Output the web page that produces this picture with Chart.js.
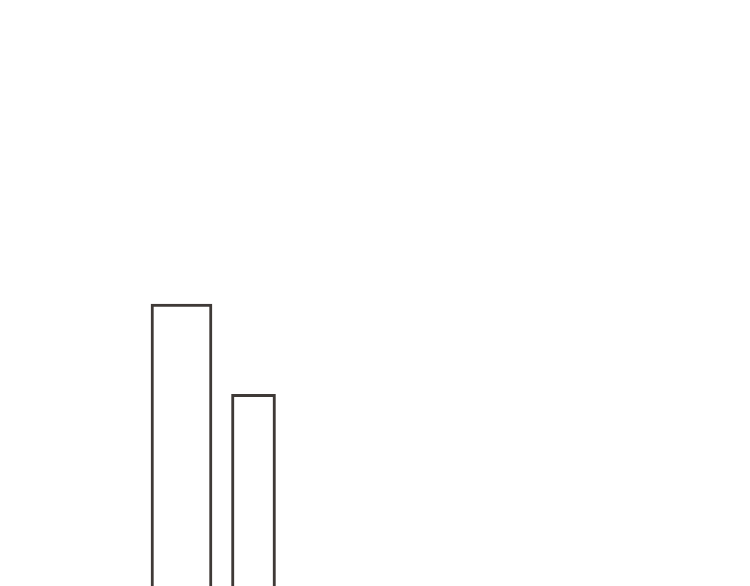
<!DOCTYPE html>
<html>
<head>
<meta charset="utf-8">
<script src="https://cdn.jsdelivr.net/npm/chart.js@4/dist/chart.umd.min.js"></script>
<style>
  html, body { margin: 0; padding: 0; background: #fff; overflow: hidden; }
  .wrap { position: relative; width: 750px; height: 586px; }
</style>
</head>
<body>
<div class="wrap"><canvas id="chart"></canvas></div>
<script>
  // categories along x, only the first two carry a bar
  const categories = ['1', '2', '3', '4', '5', '6', '7', '8'];
  const wideBar = [{ x: '1', y: 100 }];
  const narrowBar = [{ x: '2', y: 68 }];

  const LINE = '#3f3a37';

  new Chart(document.getElementById('chart'), {
    type: 'bar',
    data: {
      labels: categories,
      datasets: [
        {
          data: wideBar,
          barThickness: 61,
          grouped: false,
          backgroundColor: '#fff',
          borderColor: LINE,
          borderWidth: 3,
        },
        {
          data: narrowBar,
          barThickness: 44,
          grouped: false,
          backgroundColor: '#fff',
          borderColor: LINE,
          borderWidth: 3,
        },
      ],
    },
    options: {
      responsive: true,
      maintainAspectRatio: false,
      animation: false,
      layout: { padding: { left: 145.5, right: 28.5, top: 22, bottom: 0 } },
      plugins: { legend: { display: false }, tooltip: { enabled: false } },
      scales: {
        x: { display: false, offset: true },
        y: { display: false, min: 0, max: 200 },
      },
    },
  });
</script>
</body>
</html>
